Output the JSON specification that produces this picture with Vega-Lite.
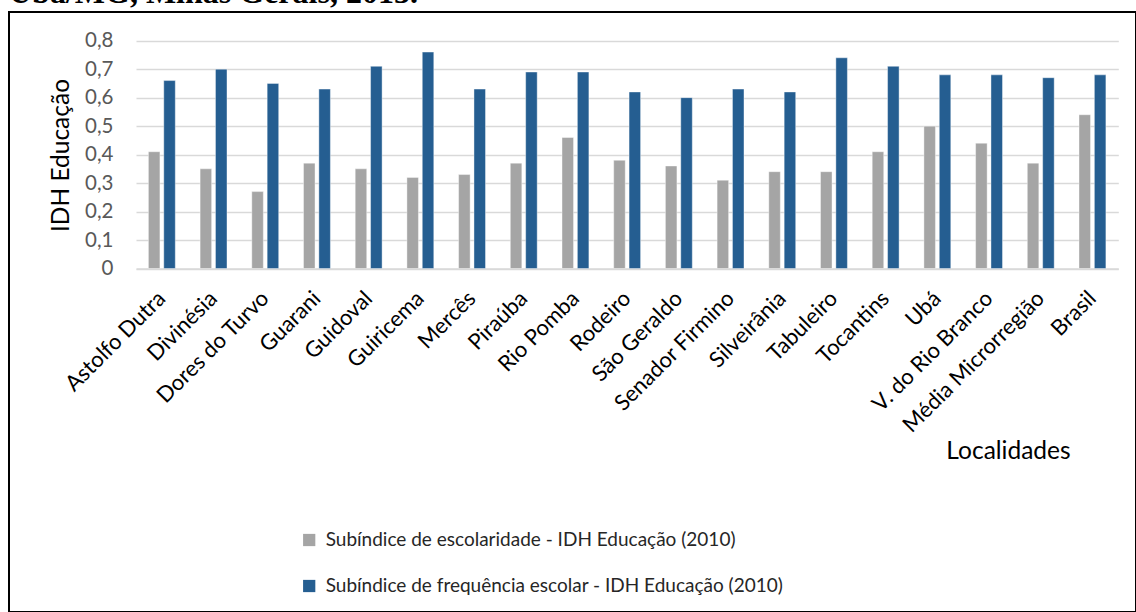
{
  "$schema": "https://vega.github.io/schema/vega-lite/v6.json",
  "autosize": {"type": "none"},
  "padding": {"left": 9, "top": 12, "right": 0, "bottom": 0},
  "width": 1127,
  "height": 600,
  "background": "white",
  "title": {"text": "Ubá/MG, Minas Gerais, 2013.", "anchor": "start", "frame": "group", "font": "Liberation Serif", "fontSize": 32, "fontWeight": "bold", "color": "black", "baseline": "alphabetic", "offset": -23},
  "datasets": {
    "idh": [
      {"Localidade": "Astolfo Dutra", "Serie": "Subíndice de escolaridade - IDH Educação (2010)", "Valor": 0.41},
      {"Localidade": "Astolfo Dutra", "Serie": "Subíndice de frequência escolar - IDH Educação (2010)", "Valor": 0.66},
      {"Localidade": "Divinésia", "Serie": "Subíndice de escolaridade - IDH Educação (2010)", "Valor": 0.35},
      {"Localidade": "Divinésia", "Serie": "Subíndice de frequência escolar - IDH Educação (2010)", "Valor": 0.70},
      {"Localidade": "Dores do Turvo", "Serie": "Subíndice de escolaridade - IDH Educação (2010)", "Valor": 0.27},
      {"Localidade": "Dores do Turvo", "Serie": "Subíndice de frequência escolar - IDH Educação (2010)", "Valor": 0.65},
      {"Localidade": "Guarani", "Serie": "Subíndice de escolaridade - IDH Educação (2010)", "Valor": 0.37},
      {"Localidade": "Guarani", "Serie": "Subíndice de frequência escolar - IDH Educação (2010)", "Valor": 0.63},
      {"Localidade": "Guidoval", "Serie": "Subíndice de escolaridade - IDH Educação (2010)", "Valor": 0.35},
      {"Localidade": "Guidoval", "Serie": "Subíndice de frequência escolar - IDH Educação (2010)", "Valor": 0.71},
      {"Localidade": "Guiricema", "Serie": "Subíndice de escolaridade - IDH Educação (2010)", "Valor": 0.32},
      {"Localidade": "Guiricema", "Serie": "Subíndice de frequência escolar - IDH Educação (2010)", "Valor": 0.76},
      {"Localidade": "Mercês", "Serie": "Subíndice de escolaridade - IDH Educação (2010)", "Valor": 0.33},
      {"Localidade": "Mercês", "Serie": "Subíndice de frequência escolar - IDH Educação (2010)", "Valor": 0.63},
      {"Localidade": "Piraúba", "Serie": "Subíndice de escolaridade - IDH Educação (2010)", "Valor": 0.37},
      {"Localidade": "Piraúba", "Serie": "Subíndice de frequência escolar - IDH Educação (2010)", "Valor": 0.69},
      {"Localidade": "Rio Pomba", "Serie": "Subíndice de escolaridade - IDH Educação (2010)", "Valor": 0.46},
      {"Localidade": "Rio Pomba", "Serie": "Subíndice de frequência escolar - IDH Educação (2010)", "Valor": 0.69},
      {"Localidade": "Rodeiro", "Serie": "Subíndice de escolaridade - IDH Educação (2010)", "Valor": 0.38},
      {"Localidade": "Rodeiro", "Serie": "Subíndice de frequência escolar - IDH Educação (2010)", "Valor": 0.62},
      {"Localidade": "São Geraldo", "Serie": "Subíndice de escolaridade - IDH Educação (2010)", "Valor": 0.36},
      {"Localidade": "São Geraldo", "Serie": "Subíndice de frequência escolar - IDH Educação (2010)", "Valor": 0.60},
      {"Localidade": "Senador Firmino", "Serie": "Subíndice de escolaridade - IDH Educação (2010)", "Valor": 0.31},
      {"Localidade": "Senador Firmino", "Serie": "Subíndice de frequência escolar - IDH Educação (2010)", "Valor": 0.63},
      {"Localidade": "Silveirânia", "Serie": "Subíndice de escolaridade - IDH Educação (2010)", "Valor": 0.34},
      {"Localidade": "Silveirânia", "Serie": "Subíndice de frequência escolar - IDH Educação (2010)", "Valor": 0.62},
      {"Localidade": "Tabuleiro", "Serie": "Subíndice de escolaridade - IDH Educação (2010)", "Valor": 0.34},
      {"Localidade": "Tabuleiro", "Serie": "Subíndice de frequência escolar - IDH Educação (2010)", "Valor": 0.74},
      {"Localidade": "Tocantins", "Serie": "Subíndice de escolaridade - IDH Educação (2010)", "Valor": 0.41},
      {"Localidade": "Tocantins", "Serie": "Subíndice de frequência escolar - IDH Educação (2010)", "Valor": 0.71},
      {"Localidade": "Ubá", "Serie": "Subíndice de escolaridade - IDH Educação (2010)", "Valor": 0.50},
      {"Localidade": "Ubá", "Serie": "Subíndice de frequência escolar - IDH Educação (2010)", "Valor": 0.68},
      {"Localidade": "V. do Rio Branco", "Serie": "Subíndice de escolaridade - IDH Educação (2010)", "Valor": 0.44},
      {"Localidade": "V. do Rio Branco", "Serie": "Subíndice de frequência escolar - IDH Educação (2010)", "Valor": 0.68},
      {"Localidade": "Média Microrregião", "Serie": "Subíndice de escolaridade - IDH Educação (2010)", "Valor": 0.37},
      {"Localidade": "Média Microrregião", "Serie": "Subíndice de frequência escolar - IDH Educação (2010)", "Valor": 0.67},
      {"Localidade": "Brasil", "Serie": "Subíndice de escolaridade - IDH Educação (2010)", "Valor": 0.54},
      {"Localidade": "Brasil", "Serie": "Subíndice de frequência escolar - IDH Educação (2010)", "Valor": 0.68}
    ]
  },
  "data": {"name": "idh"},
  "mark": {"type": "bar", "stroke": "white", "strokeWidth": 0.8, "strokeOpacity": 0.5},
  "encoding": {
    "x": {
      "field": "Localidade", "type": "nominal", "sort": null,
      "scale": {"range": [127, 1109.3], "paddingInner": 0.48, "paddingOuter": 0.24},
      "axis": {
        "title": "Localidades", "labelAngle": -45, "labelAlign": "right", "labelBaseline": "middle",
        "labelFont": "Lato", "labelFontSize": 22, "labelColor": "black",
        "labelPadding": 26, "ticks": false, "domainColor": "#D9D9D9", "domainWidth": 1.5, "offset": -343.5,
        "labelLimit": 0, "labelOverlap": false,
        "titleFont": "Lato", "titleFontSize": 24.5, "titleFontWeight": "normal", "titleColor": "black",
        "titleX": 999, "titleY": 190, "titleAlign": "center", "titleBaseline": "alphabetic"
      }
    },
    "xOffset": {"field": "Serie", "type": "nominal", "sort": null, "scale": {"paddingInner": 0.25}},
    "y": {
      "field": "Valor", "type": "quantitative",
      "scale": {"domain": [0, 0.8], "range": [256.5, 28.7], "nice": false, "zero": true},
      "axis": {
        "title": "IDH Educação", "values": [0, 0.1, 0.2, 0.3, 0.4, 0.5, 0.6, 0.7, 0.8],
        "labelExpr": "datum.value == 0 ? '0' : replace(format(datum.value, '.1f'), '.', ',')",
        "offset": -127, "domain": false, "ticks": false, "labelPadding": 23,
        "labelFont": "Lato", "labelFontSize": 20.5, "labelColor": "#595959",
        "gridColor": "#D9D9D9", "gridWidth": 1.5,
        "titleFont": "Lato", "titleFontSize": 24.5, "titleFontWeight": "normal", "titleColor": "black",
        "titleX": -75, "titleY": 143, "titleAngle": -90, "titleAlign": "center", "titleBaseline": "middle"
      }
    },
    "color": {
      "field": "Serie", "type": "nominal", "sort": null,
      "scale": {"domain": ["Subíndice de escolaridade - IDH Educação (2010)", "Subíndice de frequência escolar - IDH Educação (2010)"], "range": ["#A5A5A5", "#255E91"]},
      "legend": {
        "title": null, "orient": "none", "legendX": 290.7, "legendY": 518.5, "direction": "vertical",
        "symbolType": "square", "symbolSize": 150, "symbolStrokeWidth": 0,
        "labelFont": "Lato", "labelFontSize": 19, "labelColor": "#262626", "labelOffset": 7,
        "labelLimit": 0, "rowPadding": 26, "padding": 0
      }
    }
  },
  "config": {"view": {"stroke": "black", "strokeWidth": 2}}
}
